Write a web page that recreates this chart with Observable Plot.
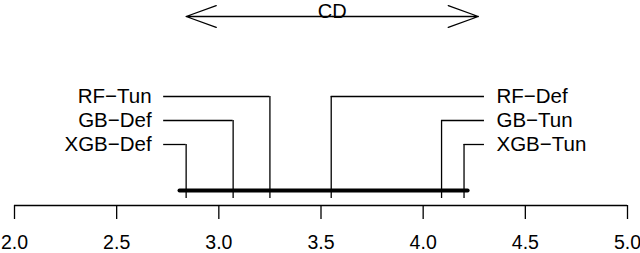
<!DOCTYPE html>
<html><head><meta charset="utf-8">
<script src="https://cdn.jsdelivr.net/npm/d3@7"></script>
<script src="https://cdn.jsdelivr.net/npm/@observablehq/plot@0.6"></script>
<style>html,body{margin:0;padding:0;background:#fff} svg{display:block}</style>
</head><body><div id="chart"></div>
<script>
// ---- data ----
const models = ["XGB\u2212Def", "GB\u2212Def", "RF\u2212Tun", "RF\u2212Def", "GB\u2212Tun", "XGB\u2212Tun"];
const ranks = [2.84, 3.07, 3.25, 3.55, 4.09, 4.20];
const sides = ["left", "left", "left", "right", "right", "right"];
const tiers = [3, 2, 1, 1, 2, 3];
const criticalDifference = 1.43;
const cdStart = 2.84;
const groupStart = 2.81;
const groupEnd = 4.22;
const xTicks = [2.0, 2.5, 3.0, 3.5, 4.0, 4.5, 5.0];
const cdLabel = "CD";

// ---- layout ----
const tierY = t => 96 + (t - 1) * 24;
const lineLeft = 2.73, lineRight = 4.30;
const yBar = 190, yTickEnd = 198, yAxis = 205, yCD = 16;
const lw = 1.3;

const rows = models.map((m, i) => ({model: m, rank: ranks[i], side: sides[i], tier: tiers[i]}));
const left = rows.filter(d => d.side === "left");
const right = rows.filter(d => d.side === "right");
const cdEnd = cdStart + criticalDifference;
const cdMid = (cdStart + cdEnd) / 2;

const chart = Plot.plot({
  width: 640, height: 253,
  marginLeft: 14, marginRight: 13, marginTop: 0, marginBottom: 48,
  x: {domain: [2, 5]},
  y: {domain: [205, 0], axis: null},
  style: {fontFamily: "'Liberation Sans', Arial, Helvetica, sans-serif", fontSize: "18px", color: "black", background: "white"},
  marks: [
    Plot.arrow([{a: cdMid, b: cdStart}, {a: cdMid, b: cdEnd}], {
      x1: "a", x2: "b", y1: () => yCD, y2: () => yCD,
      headLength: 32 * 1.5 / lw, headAngle: 40, stroke: "black", strokeWidth: lw
    }),
    Plot.text([cdLabel], {x: () => cdMid, y: () => yCD, text: d => d, lineAnchor: "bottom", dy: 1, fontSize: 20, fill: "black"}),
    Plot.ruleY(rows, {
      y: d => tierY(d.tier),
      x1: d => d.side === "left" ? lineLeft : d.rank,
      x2: d => d.side === "left" ? d.rank : lineRight,
      stroke: "black", strokeWidth: lw
    }),
    Plot.ruleX(rows, {x: "rank", y1: d => tierY(d.tier), y2: () => yTickEnd, stroke: "black", strokeWidth: lw}),
    Plot.ruleY([{s: groupStart, e: groupEnd}], {y: () => yBar, x1: "s", x2: "e", stroke: "black", strokeWidth: 4, strokeLinecap: "round"}),
    Plot.text(left, {x: () => lineLeft, y: d => tierY(d.tier), text: "model", textAnchor: "end", dx: -12, fontSize: 20.5, fill: "black"}),
    Plot.text(right, {x: () => lineRight, y: d => tierY(d.tier), text: "model", textAnchor: "start", dx: 12, fontSize: 20.5, fill: "black"}),
    Plot.ruleY([{s: 2, e: 5}], {y: () => yAxis, x1: "s", x2: "e", stroke: "black", strokeWidth: lw}),
    Plot.axisX({ticks: xTicks, tickFormat: d => d.toFixed(1), tickSize: 14, tickPadding: 16, fontSize: 19.5, strokeWidth: lw, anchor: "bottom"})
  ]
});
document.getElementById("chart").appendChild(chart);
</script>
</body></html>
